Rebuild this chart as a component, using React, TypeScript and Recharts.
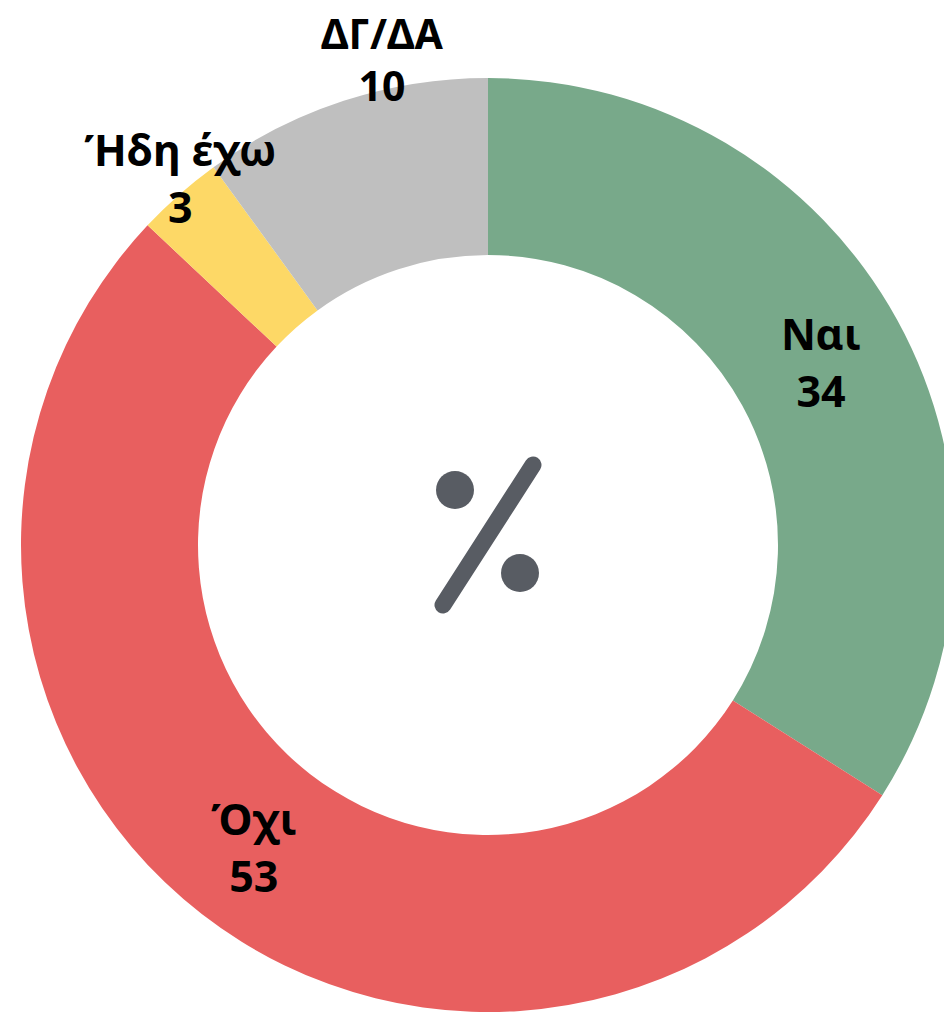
import { PieChart, Pie, Cell } from 'recharts';

const categories = ['Ναι', 'Όχι', 'Ήδη έχω', 'ΔΓ/ΔΑ'];
const values = [34, 53, 3, 10];
const colors = ['#78a98a', '#e85f5f', '#fdd866', '#bfbfbf'];

// label radius and small nudges per slice (outside ones sit above the ring)
const labelRadius = [380, 382, 473, 505];
const labelNudgeX = [0, 0, 5, 50];
const labelNudgeY = [0, 0, -12, -4];

const data = categories.map((name, i) => ({ name, value: values[i] }));

const CX = 488;
const CY = 545;
const RAD = Math.PI / 180;
const FONT = "'Noto Sans', 'DejaVu Sans', sans-serif";

const renderLabel = (props: any) => {
  const { cx, cy, midAngle, index, name, value } = props;
  const r = labelRadius[index];
  const x = cx + r * Math.cos(-midAngle * RAD) + labelNudgeX[index];
  const y = cy + r * Math.sin(-midAngle * RAD) + labelNudgeY[index];
  return (
    <text
      x={x}
      y={y}
      textAnchor="middle"
      fill="#000"
      fontFamily={FONT}
      fontWeight="bold"
      fontSize={index === 3 ? 41 : 43}
    >
      <tspan x={x} dy={-12}>{name}</tspan>
      <tspan x={x} dy={index === 3 ? 52 : 57}>{value}</tspan>
    </text>
  );
};

// the "%" mark in the hole
function PercentIcon() {
  return (
    <svg width={944} height={1014} style={{ position: 'absolute', left: 0, top: 0, pointerEvents: 'none' }}>
      <title>%</title>
      <g fill="#585c63" stroke="#585c63">
        <circle cx={CX - 33} cy={CY - 55} r={19} stroke="none" />
        <circle cx={CX + 32} cy={CY + 28} r={19} stroke="none" />
        <line x1={CX + 45} y1={CY - 80} x2={CX - 45} y2={CY + 60} strokeWidth={17} strokeLinecap="round" />
      </g>
    </svg>
  );
}

export default function App() {
  return (
    <div style={{ position: 'absolute', left: 0, top: 0, width: 944, height: 1014, overflow: 'hidden', background: '#fff' }}>
      <PieChart width={944} height={1014} margin={{ top: 0, right: 0, bottom: 0, left: 0 }}>
        <Pie
          data={data}
          dataKey="value"
          nameKey="name"
          cx={CX}
          cy={CY}
          innerRadius={290}
          outerRadius={467}
          startAngle={90}
          endAngle={-270}
          stroke="none"
          labelLine={false}
          label={renderLabel}
          isAnimationActive={false}
        >
          {data.map((d, i) => (
            <Cell key={d.name} fill={colors[i]} />
          ))}
        </Pie>
      </PieChart>
      <PercentIcon />
    </div>
  );
}
